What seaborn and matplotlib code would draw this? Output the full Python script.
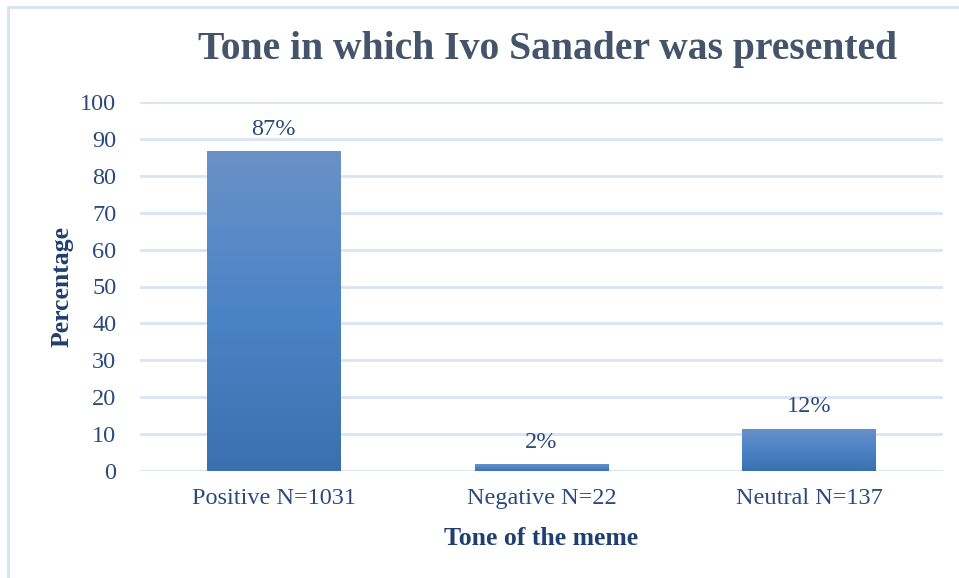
import numpy as np
import pandas as pd
import matplotlib
matplotlib.use("Agg")
import matplotlib.pyplot as plt
from matplotlib.colors import LinearSegmentedColormap
from matplotlib.patches import Rectangle
import seaborn as sns

categories = ["Positive N=1031", "Negative N=22", "Neutral N=137"]
values = [86.6, 1.85, 11.5]
labels = ["87%", "2%", "12%"]
yticks = [0, 10, 20, 30, 40, 50, 60, 70, 80, 90, 100]

sns.set_theme(style="white")
plt.rcParams["font.family"] = ["Liberation Serif", "DejaVu Serif"]

W, H = 959, 578
fig = plt.figure(figsize=(W / 100, H / 100), dpi=100)
ax = fig.add_axes([140 / W, 107 / H, 803 / W, 369 / H])

df = pd.DataFrame({"tone": categories, "pct": values})
sns.barplot(data=df, x="tone", y="pct", ax=ax, width=0.5, color="#4a82c4",
            saturation=1, zorder=3)

# gradient fill clipped to each bar
cmap = LinearSegmentedColormap.from_list("g", ["#3a70af", "#4b84c6", "#6a91c7"])
grad = np.linspace(0, 1, 256).reshape(-1, 1)
for p in ax.patches:
    x0, y0 = p.get_x(), p.get_y()
    w, h = p.get_width(), p.get_height()
    p.set_edgecolor("none")
    im = ax.imshow(grad, cmap=cmap, origin="lower", aspect="auto",
                   extent=[x0, x0 + w, y0, y0 + h], zorder=4)
    im.set_clip_path(p)

ax.set_xlim(-0.5, 2.5)
ax.set_ylim(0, 100)
ax.set_yticks(yticks)
ax.grid(axis="y", color="#d9e4f3", linewidth=2, zorder=0)
ax.grid(axis="x", visible=False)
for s in ax.spines.values():
    s.set_visible(False)

tick_color = "#2a4a7a"
ax.tick_params(axis="y", length=0, pad=17, labelsize=17.5, labelcolor=tick_color)
ax.tick_params(axis="x", length=0, pad=12, labelsize=17.5, labelcolor=tick_color)

for i, (v, lab) in enumerate(zip(values, labels)):
    ax.annotate(lab, (i, v), xytext=(0, 8), textcoords="offset points",
                ha="center", va="bottom", fontsize=17.5, color=tick_color, zorder=5)

ax.set_xlabel("Tone of the meme", fontsize=18.5, fontweight="bold",
              color="#1f3f70", labelpad=13)
ax.set_ylabel("Percentage", fontsize=18.5, fontweight="bold",
              color="#1f3f70", labelpad=5)

fig.text(548 / W, 1 - 50 / H, "Tone in which Ivo Sanader was presented",
         ha="center", va="center", fontsize=28.5, fontweight="bold", color="#44546a")

fig.patches.append(Rectangle((8 / W, -0.1), 1.2, 1.1 - 7 / H, transform=fig.transFigure,
                             fill=False, edgecolor="#d6e2f3", linewidth=2))

fig.savefig("out.png", dpi=100)
